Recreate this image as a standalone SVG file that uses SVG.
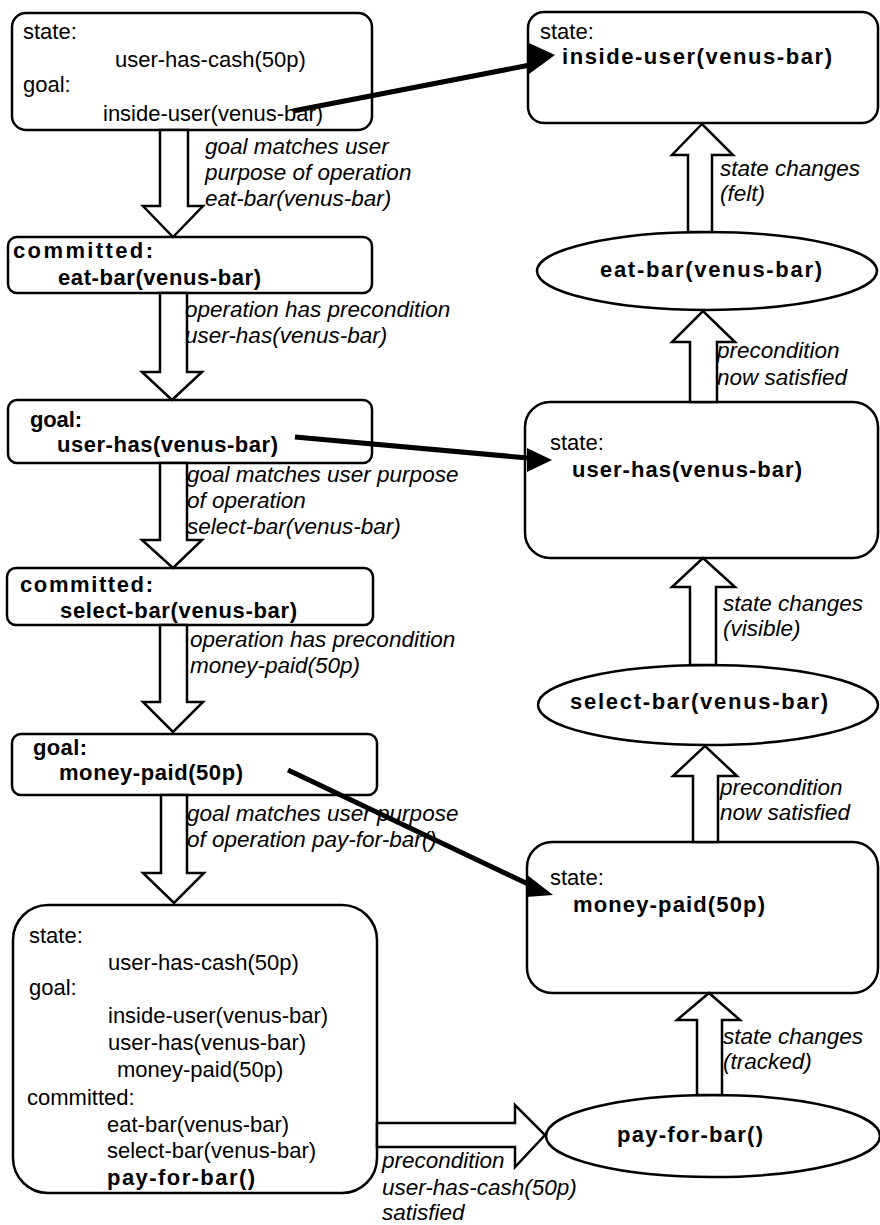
<svg xmlns="http://www.w3.org/2000/svg" width="880" height="1225" viewBox="0 0 880 1225">
<style>
.box{fill:#fff;stroke:#000;stroke-width:2.5}
.blk{fill:#fff;stroke:#000;stroke-width:2.5;stroke-linejoin:miter}
.t{font-family:"Liberation Sans",Arial,Helvetica,sans-serif;font-size:22px;fill:#000}
.b{font-weight:bold}
.i{font-style:italic;font-size:22.5px}
.con{stroke:#000;stroke-width:5;fill:none}
.hd{fill:#000;stroke:none}
</style>
<rect width="880" height="1225" fill="#fff"/>

<g id="n-start">
<rect class="box" x="12" y="13" width="360" height="117" rx="14"/>
<text class="t" x="23" y="39">state:</text>
<text class="t" x="115" y="67">user-has-cash(50p)</text>
<text class="t" x="23" y="92">goal:</text>
<text class="t" x="103" y="121">inside-user(venus-bar)</text>
</g>

<g id="n-committed-eat">
<rect class="box" x="8" y="237" width="364" height="56" rx="9"/>
<text class="t b" x="13" y="258" textLength="140" lengthAdjust="spacing">committed:</text>
<text class="t b" x="58" y="285" textLength="203" lengthAdjust="spacing">eat-bar(venus-bar)</text>
</g>

<g id="n-goal-userhas">
<rect class="box" x="8" y="400" width="364" height="63" rx="9"/>
<text class="t b" x="30" y="427" textLength="52" lengthAdjust="spacing">goal:</text>
<text class="t b" x="57" y="452" textLength="221" lengthAdjust="spacing">user-has(venus-bar)</text>
</g>

<g id="n-committed-select">
<rect class="box" x="7" y="568" width="366" height="57" rx="9"/>
<text class="t b" x="20" y="592" textLength="133" lengthAdjust="spacing">committed:</text>
<text class="t b" x="60" y="618" textLength="237" lengthAdjust="spacing">select-bar(venus-bar)</text>
</g>

<g id="n-goal-money">
<rect class="box" x="12" y="734" width="365" height="61" rx="9"/>
<text class="t b" x="33" y="755" textLength="54" lengthAdjust="spacing">goal:</text>
<text class="t b" x="59" y="780" textLength="184" lengthAdjust="spacing">money-paid(50p)</text>
</g>

<g id="n-full">
<rect class="box" x="13" y="905" width="364" height="288" rx="35"/>
<text class="t" x="29" y="943">state:</text>
<text class="t" x="108" y="970">user-has-cash(50p)</text>
<text class="t" x="29" y="995">goal:</text>
<text class="t" x="108" y="1023">inside-user(venus-bar)</text>
<text class="t" x="108" y="1050">user-has(venus-bar)</text>
<text class="t" x="117" y="1077">money-paid(50p)</text>
<text class="t" x="27" y="1105">committed:</text>
<text class="t" x="107" y="1132">eat-bar(venus-bar)</text>
<text class="t" x="107" y="1158">select-bar(venus-bar)</text>
<text class="t b" x="107" y="1185" textLength="148" lengthAdjust="spacing">pay-for-bar()</text>
</g>

<g id="n-state-inside">
<rect class="box" x="528" y="12" width="350" height="111" rx="16"/>
<text class="t" x="540" y="39">state:</text>
<text class="t b" x="562" y="64" textLength="270" lengthAdjust="spacing">inside-user(venus-bar)</text>
</g>

<g id="n-op-eat">
<ellipse class="box" cx="707" cy="271" rx="170" ry="39"/>
<text class="t b" x="600" y="277" textLength="222" lengthAdjust="spacing">eat-bar(venus-bar)</text>
</g>

<g id="n-state-userhas">
<rect class="box" x="525" y="402" width="353" height="156" rx="25"/>
<text class="t" x="550" y="450">state:</text>
<text class="t b" x="572" y="477" textLength="230" lengthAdjust="spacing">user-has(venus-bar)</text>
</g>

<g id="n-op-select">
<ellipse class="box" cx="708" cy="705" rx="170" ry="40"/>
<text class="t b" x="570" y="709" textLength="258" lengthAdjust="spacing">select-bar(venus-bar)</text>
</g>

<g id="n-state-money">
<rect class="box" x="527" y="842" width="351" height="151" rx="25"/>
<text class="t" x="550" y="885">state:</text>
<text class="t b" x="573" y="912" textLength="192" lengthAdjust="spacing">money-paid(50p)</text>
</g>

<g id="n-op-pay">
<ellipse class="box" cx="713" cy="1136" rx="167" ry="41"/>
<text class="t b" x="617" y="1142" textLength="146" lengthAdjust="spacing">pay-for-bar()</text>
</g>

<g id="connectors">
<polygon class="blk" points="160,130 188,130 188,206 203,206 173,237 143,206 160,206"/>
<polygon class="blk" points="160,293 187,293 187,372 202,372 172,400 142,372 160,372"/>
<polygon class="blk" points="160,463 187,463 187,540 202,540 173,568 142,540 160,540"/>
<polygon class="blk" points="160,625 187,625 187,702 203,702 173,732 143,702 160,702"/>
<polygon class="blk" points="161,795 187,795 187,873 204,873 174,903 143,873 161,873"/>
<polygon class="blk" points="688,232 712,232 712,155 733,155 702,124 672,155 688,155"/>
<polygon class="blk" points="690,402 717,402 717,342 735,342 703,311 672,342 690,342"/>
<polygon class="blk" points="690,665 716,665 716,587 735,587 703,558 672,587 690,587"/>
<polygon class="blk" points="693,842 718,842 718,776 737,776 705,746 673,776 693,776"/>
<polygon class="blk" points="697,1095 722,1095 722,1020 740,1020 709,993 677,1020 697,1020"/>
<polygon class="blk" points="377,1123 515,1123 515,1105 545,1135 515,1167 515,1147 377,1147"/>

<text class="t i" x="205" y="154">goal matches user</text>
<text class="t i" x="205" y="180">purpose of operation</text>
<text class="t i" x="205" y="206">eat-bar(venus-bar)</text>

<text class="t i" x="185" y="317">operation has precondition</text>
<text class="t i" x="185" y="343">user-has(venus-bar)</text>

<text class="t i" x="187" y="482">goal matches user purpose</text>
<text class="t i" x="187" y="508">of operation</text>
<text class="t i" x="187" y="534">select-bar(venus-bar)</text>

<text class="t i" x="190" y="647">operation has precondition</text>
<text class="t i" x="190" y="673">money-paid(50p)</text>

<text class="t i" x="187" y="821">goal matches user purpose</text>
<text class="t i" x="187" y="847">of operation pay-for-bar()</text>

<text class="t i" x="382" y="1168">precondition</text>
<text class="t i" x="382" y="1195">user-has-cash(50p)</text>
<text class="t i" x="382" y="1220">satisfied</text>

<text class="t i" x="720" y="176">state changes</text>
<text class="t i" x="720" y="201">(felt)</text>

<text class="t i" x="717" y="358">precondition</text>
<text class="t i" x="717" y="385">now satisfied</text>

<text class="t i" x="723" y="611">state changes</text>
<text class="t i" x="723" y="636">(visible)</text>

<text class="t i" x="720" y="795">precondition</text>
<text class="t i" x="720" y="820">now satisfied</text>

<text class="t i" x="723" y="1044">state changes</text>
<text class="t i" x="723" y="1069">(tracked)</text>

<line class="con" x1="293" y1="111" x2="530" y2="65"/>
<polygon class="hd" points="529,43 529,74 555,55"/>
<line class="con" x1="295" y1="437" x2="528" y2="458"/>
<polygon class="hd" points="527,448 527,472 552,460"/>
<line class="con" x1="288" y1="770" x2="528" y2="884"/>
<polygon class="hd" points="526,874 526,897 553,895"/>
</g>
</svg>
